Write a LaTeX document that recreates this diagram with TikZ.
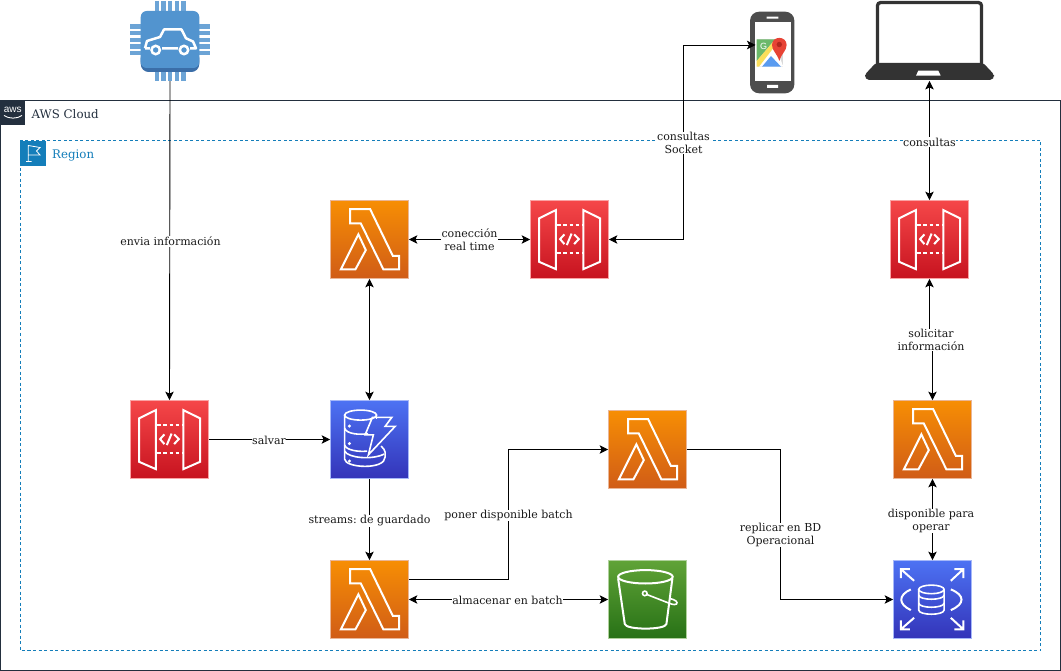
\documentclass[tikz,border=0pt]{standalone}
\usepackage{fontspec}
\setmainfont{DejaVu Serif}
\newfontfamily\awsfont{Liberation Sans}
\usetikzlibrary{arrows.meta}
\definecolor{awsdark}{HTML}{232F3E}
\definecolor{awsblue}{HTML}{147EBA}
\definecolor{chipblue}{HTML}{5294CF}
\definecolor{chipdark}{HTML}{3B6EA8}
\definecolor{devdark}{HTML}{4D4D4D}
\definecolor{lapdark}{HTML}{333333}
\definecolor{lamT}{HTML}{F78E04}
\definecolor{lamB}{HTML}{D05C17}
\definecolor{gwT}{HTML}{F54749}
\definecolor{gwB}{HTML}{C7131F}
\definecolor{dbT}{HTML}{4D72F3}
\definecolor{dbB}{HTML}{3334B9}
\definecolor{s3T}{HTML}{60A337}
\definecolor{s3B}{HTML}{277116}
\definecolor{mapgreen}{HTML}{6CB86A}
\definecolor{mapyellow}{HTML}{FBDE5C}
\definecolor{mapblue}{HTML}{5A9BF0}
\definecolor{mapgray}{HTML}{D9D9D9}
\definecolor{mapred}{HTML}{E74335}
\definecolor{mapdot}{HTML}{B3271E}
\tikzset{
  x=1pt,y=-1pt,
  awsbox/.style={minimum size=78pt,inner sep=0pt,shade,line width=0.8pt},
  lam/.style={awsbox,top color=lamT,bottom color=lamB,draw=lamB!45!white},
  gwy/.style={awsbox,top color=gwT,bottom color=gwB,draw=gwT!50!white},
  dbb/.style={awsbox,top color=dbT,bottom color=dbB,draw=dbT!50!white},
  sss/.style={awsbox,top color=s3T,bottom color=s3B,draw=s3T!50!white},
  ico/.style={draw=white,line width=2pt,line join=miter,fill=none},
  icothin/.style={ico,line width=1.6pt},
  conn/.style={draw=black,line width=0.9pt},
  one/.style={conn,-{Stealth[length=8.5pt,width=8.5pt,inset=2pt]}},
  two/.style={conn,{Stealth[length=8.5pt,width=8.5pt,inset=2pt]}-{Stealth[length=8.5pt,width=8.5pt,inset=2pt]}},
  lbl/.style={fill=white,inner sep=0.6pt,align=center,font=\fontsize{11}{13}\selectfont\frenchspacing,text=black!90},
  pin/.style={draw=chipblue!85!white,line width=4.4pt},
  lambdaicon/.pic={
    \draw[ico] (20,9)--(40,9)--(62.7,55.7)--(69,55.7)--(69,69.3)--(53.3,69.3)--(30.7,23.3)--(20,23.3)--cycle;
    \draw[ico] (28.3,34.3)--(35.7,50)--(25.3,69.3)--(10.7,69.3)--cycle;
  },
  gatewayicon/.pic={
    \draw[ico] (9,18.3)--(25.7,10)--(25.7,69)--(9,61.7)--cycle;
    \draw[ico] (53.3,10)--(70,18.3)--(70,61.7)--(53.3,69)--cycle;
    \draw[ico,dash pattern=on 3.5pt off 2.7pt] (27,25)--(53,25) (27,53.3)--(53,53.3);
    \draw[ico] (34.3,34.3)--(30,39)--(34.3,44) (44,34.3)--(48.7,39)--(44,44) (41.5,33.5)--(36.7,45);
  },
  dynamoicon/.pic={
    \draw[icothin] (30.5,15) ellipse [x radius=16,y radius=5];
    \draw[icothin] (14.5,15)--(14.5,59) .. controls (15,68) and (55,70) .. (55,57)--(55,52) .. controls (55,50) and (53,48) .. (51,46);
    \draw[icothin] (46.5,15)--(46.5,19);
    \draw[icothin] (14.5,28) .. controls (16,34) and (30,35) .. (38,33.5);
    \draw[icothin] (14.5,45) .. controls (16,50) and (28,52) .. (37,51);
    \draw[icothin] (14.5,51) .. controls (18,58) and (42,60) .. (54,54);
    \draw[icothin] (42.3,17.3)--(61.7,17.3)--(55,26.3)--(65,26.3)--(38.3,54.7)--(43.3,34.7)--(35,34.7)--cycle;
    \fill[white] (19.3,26) circle (1.7) (19.3,43.5) circle (1.7) (19.3,61) circle (1.7);
  },
  bucketicon/.pic={
    \draw[ico] (37.3,16.7) ellipse [x radius=27.3,y radius=6.7];
    \draw[ico] (10,18.3)--(16.7,64) .. controls (18,70) and (57,70) .. (58.3,64)--(64.3,18.3);
    \draw[icothin] (36.7,33.3) circle (2.3);
    \draw[icothin] (39,34.5)--(62,43.5) .. controls (69,46) and (70,43) .. (68,41) .. controls (66,39.5) and (64,39) .. (62,38.5);
  },
  rdsicon/.pic={
    \draw[icothin] (38.3,29.3) ellipse [x radius=12.7,y radius=4.3];
    \draw[icothin] (25.6,29.3)--(25.6,50) .. controls (26,55.5) and (50.5,55.5) .. (51,50)--(51,29.3);
    \draw[icothin] (25.6,35) .. controls (26,40.5) and (50.5,40.5) .. (51,35);
    \draw[icothin] (25.6,43) .. controls (26,48.5) and (50.5,48.5) .. (51,43);
    \draw[ico] (17.7,29.3) .. controls (5,35) and (5,44) .. (17.7,50);
    \draw[ico] (57.7,29.3) .. controls (72,35) and (72,44) .. (57.7,50);
    \draw[ico] (7.7,9)--(21,20.7) (16.7,9)--(7.7,9)--(7.7,18);
    \draw[ico] (70.3,9)--(57.7,20.7) (61.3,9)--(70.3,9)--(70.3,18);
    \draw[ico] (7.7,69.3)--(21,57.7) (16.7,69.3)--(7.7,69.3)--(7.7,60.3);
    \draw[ico] (70.3,69.3)--(57.7,57.7) (61.3,69.3)--(70.3,69.3)--(70.3,60.3);
  },
}
\begin{document}
\begin{tikzpicture}
\useasboundingbox (0,0) rectangle (1061,671);
\fill[white] (0,0) rectangle (1061,671);
% containers
\draw[awsdark,line width=0.9pt] (0,100.5) rectangle (1060.5,670.5);
\draw[awsblue,line width=0.9pt,dash pattern=on 3pt off 2.5pt] (20.5,140.5) rectangle (1040.5,650.5);
\node[fill=awsdark,minimum size=25pt,inner sep=0pt,anchor=north west] (awslogo) at (0,100) {};
\node[text=white,inner sep=0pt,font=\awsfont\fontsize{10}{10}\selectfont] (awstext) at (12.7,110) {aws};
\draw[white,line width=0.9pt] (4,115.5) .. controls (9,119) and (17,119) .. (22,115.5);
\node[anchor=west,inner sep=0pt,text=awsdark,font=\fontsize{11.8}{13}\selectfont] (cloud) at (31.5,114.5) {AWS Cloud};
\node[fill=awsblue,minimum size=25.5pt,inner sep=0pt,anchor=north west] (regionlogo) at (20,140.5) {};
\draw[white,line width=0.8pt] (28.3,161.5)--(28.3,145.5)--(40,147.5)--(36.5,151)--(40,155)--(28.3,155) (26,161.5)--(31.5,161.5);
\node[anchor=west,inner sep=0pt,text=awsblue,font=\fontsize{11.8}{13}\selectfont] (region) at (52,155.5) {Region};

% car chip
\node[minimum size=80pt,inner sep=0pt] (chip) at (170,41) {};
\foreach \p in {156.7,163.3,170,176.7,183.3}{
  \draw[pin] (\p,1)--(\p,81);
}
\foreach \p in {26.7,33.3,40,46.7,53.3}{
  \draw[pin] (130,\p)--(210,\p);
}
\fill[chipdark,rounded corners=8pt] (140.7,50) rectangle (199.3,72);
\fill[chipblue,rounded corners=6pt] (140.7,11) rectangle (199.3,68);
\draw[white,line width=2.5pt,line join=round] (145,48.3)--(147,41)--(160,37)--(164,29.5)--(181.5,29.5)--(186,38.3)--(193,41.5)--(196,48.3)--(190,48.3) (178,48.3)--(162,48.3) (150,48.3)--(145,48.3);
\draw[white,line width=2.5pt] (155.7,50) circle (4.2) (184,50) circle (4.2);

% phone
\node[fill=devdark,minimum width=44.3pt,minimum height=81.6pt,inner sep=0pt,rounded corners=9pt] (phone) at (772.2,52.5) {};
\fill[white] (755,22.3) rectangle (790.7,81);
\fill[white] (766.7,16.7) rectangle (778.3,18.7) (767,85) rectangle (778,88);
\coordinate (phonein) at (755.5,45);
\fill[mapgray] (756.7,39.5) rectangle (783.3,66.7);
\fill[white] (756.7,66.7)--(775,45)--(783.3,66.7)--cycle;
\fill[mapgreen] (756.7,39.5)--(775,39.5)--(756.7,61)--cycle;
\fill[mapyellow] (756.7,61)--(775,39.5)--(778,42)--(759,66.7)--(756.7,66.7)--cycle;
\fill[mapblue] (762,66.7)--(771,56)--(781,66.7)--cycle;
\fill[mapred] (779.3,61) .. controls (777,53) and (772,51) .. (772,45) .. controls (772,35.5) and (786.6,35.5) .. (786.6,45) .. controls (786.6,51) and (781.6,53) .. (779.3,61) -- cycle;
\fill[mapdot] (779.3,44.5) circle (2.7);
\node[inner sep=0pt,text=white,font=\awsfont\fontsize{9}{9}\selectfont] (gletter) at (763.5,46) {G};

% laptop
\node[minimum width=129pt,minimum height=80.5pt,inner sep=0pt] (laptop) at (929.5,40.5) {};
\draw[lapdark,line width=3.3pt,rounded corners=3pt] (877.5,64)--(877.5,2.6)--(981.5,2.6)--(981.5,64);
\fill[lapdark,rounded corners=2pt] (875.7,63)--(983.3,63)--(994,74.5)--(994,77)--(992,80)--(867,80)--(865,77)--(865,74.5)--cycle;
\fill[white] (918.3,70.7)--(938.3,70.7)--(940.7,75.7)--(916,75.7)--cycle;

% services
\node[lam] (lamA) at (369.5,239.5) {};
\node[gwy] (gwB) at (569.5,239.5) {};
\node[gwy] (gwC) at (929.5,239.5) {};
\node[gwy] (gwA) at (169.5,439.5) {};
\node[dbb] (ddb) at (369.5,439.5) {};
\node[lam] (lamB) at (369.5,599.5) {};
\node[lam] (lamC) at (647.5,449.5) {};
\node[sss] (sthree) at (647.5,599.5) {};
\node[lam] (lamD) at (932.5,439.5) {};
\node[dbb] (rds) at (932.5,599.5) {};
\pic at (lamA.north west) {lambdaicon};
\pic at (lamB.north west) {lambdaicon};
\pic at (lamC.north west) {lambdaicon};
\pic at (lamD.north west) {lambdaicon};
\pic at (gwA.north west) {gatewayicon};
\pic at (gwB.north west) {gatewayicon};
\pic at (gwC.north west) {gatewayicon};
\pic at (ddb.north west) {dynamoicon};
\pic at (sthree.north west) {bucketicon};
\pic at (rds.north west) {rdsicon};

% connectors
\coordinate (lamBout) at (408.9,579.5);
\draw[one] (chip.south) -- (gwA.north);
\draw[one] (gwA.east) -- (ddb.west);
\draw[two] (ddb.north) -- (lamA.south);
\draw[two] (lamA.east) -- (gwB.west);
\draw[two] (gwB.east) -- (683.5,239.5) -- (683.5,45) -- (phonein);
\draw[two] (laptop.south) -- (gwC.north);
\draw[two] (gwC.south) -- (929.5,339) -- (932.5,339) -- (lamD.north);
\draw[two] (lamD.south) -- (rds.north);
\draw[one] (ddb.south) -- (lamB.north);
\draw[one] (lamBout) -- (508.5,579.5) -- (508.5,449.5) -- (lamC.west);
\draw[two] (lamB.east) -- (sthree.west);
\draw[one] (lamC.east) -- (780.5,449.5) -- (780.5,599.5) -- (rds.west);

% labels
\node[lbl] (t1) at (170.5,241.5) {envia información};
\node[lbl] (t2) at (269,440) {salvar};
\node[lbl] (t3) at (469.5,240) {conección\\real time};
\node[lbl] (t4) at (683.5,143) {consultas\\Socket};
\node[lbl] (t5) at (929.5,142) {consultas};
\node[lbl] (t6) at (931,340) {solicitar\\información};
\node[lbl] (t7) at (931,521) {disponible para\\operar};
\node[lbl] (t8) at (369.5,520.5) {streams: de guardado};
\node[lbl] (t9) at (508.5,515.5) {poner disponible batch};
\node[lbl] (t10) at (507.5,600) {almacenar en batch};
\node[lbl] (t11) at (780.5,535) {replicar en BD\\Operacional};
\end{tikzpicture}
\end{document}
